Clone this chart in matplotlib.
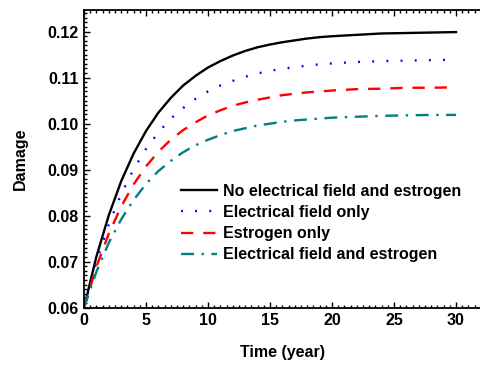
import matplotlib
matplotlib.use("Agg")
import matplotlib.pyplot as plt
from matplotlib.ticker import MultipleLocator

t = [0, 1, 2, 3, 4, 5, 6, 7, 8, 9, 10, 11, 12, 13, 14, 15, 16, 17, 18, 19, 20, 22, 24, 26, 28, 30]
no_field_no_estrogen = [0.0600, 0.0711, 0.0801, 0.0875, 0.0935, 0.0984, 0.1024, 0.1056, 0.1083, 0.1104,
                        0.1122, 0.1136, 0.1148, 0.1158, 0.1166, 0.1172, 0.1177, 0.1181, 0.1185, 0.1188,
                        0.1190, 0.1193, 0.1196, 0.1197, 0.1198, 0.1199]
field_only = [0.0600, 0.0700, 0.0781, 0.0847, 0.0901, 0.0945, 0.0981, 0.1011, 0.1034, 0.1054,
              0.1070, 0.1083, 0.1093, 0.1102, 0.1109, 0.1115, 0.1119, 0.1123, 0.1126, 0.1129,
              0.1131, 0.1134, 0.1136, 0.1137, 0.1138, 0.1139]
estrogen_only = [0.0600, 0.0689, 0.0761, 0.0820, 0.0868, 0.0907, 0.0939, 0.0965, 0.0986, 0.1003,
                 0.1018, 0.1029, 0.1039, 0.1046, 0.1052, 0.1057, 0.1062, 0.1065, 0.1068, 0.1070,
                 0.1072, 0.1075, 0.1076, 0.1078, 0.1078, 0.1079]
field_and_estrogen = [0.0600, 0.0678, 0.0741, 0.0792, 0.0834, 0.0869, 0.0897, 0.0919, 0.0938, 0.0953,
                      0.0965, 0.0975, 0.0984, 0.0990, 0.0996, 0.1000, 0.1004, 0.1007, 0.1009, 0.1011,
                      0.1013, 0.1015, 0.1017, 0.1018, 0.1019, 0.1019]
labels = ["No electrical field and estrogen", "Electrical field only",
          "Estrogen only", "Electrical field and estrogen"]

plt.rcParams['font.family'] = ['Liberation Sans', 'DejaVu Sans']
plt.rcParams['font.weight'] = 'bold'

fig = plt.figure(figsize=(4.8, 3.65), dpi=100)
ax = fig.add_axes([0.175, 0.157, 0.8267, 0.8156])

ax.plot(t, no_field_no_estrogen, color='black', lw=1.7, ls='-', label=labels[0])
ax.plot(t, field_only, color='#0000ff', lw=1.7, ls=(0, (0.8, 5.2)), label=labels[1])
ax.plot(t, estrogen_only, color='#ff0000', lw=1.7, ls=(0, (5.2, 4.2)), label=labels[2])
ax.plot(t, field_and_estrogen, color='#008080', lw=1.7, ls=(0, (5.5, 3.2, 1, 3.2)), label=labels[3])

ax.set_xlim(0, 32)
ax.set_ylim(0.06, 0.1247)
ax.xaxis.set_major_locator(MultipleLocator(5))
ax.xaxis.set_minor_locator(MultipleLocator(0.5))
ax.yaxis.set_major_locator(MultipleLocator(0.01))
ax.yaxis.set_minor_locator(MultipleLocator(0.001))
ax.yaxis.set_major_formatter(matplotlib.ticker.FormatStrFormatter('%.2f'))

ax.spines['right'].set_visible(False)
for s in ['left', 'top', 'bottom']:
    ax.spines[s].set_linewidth(1.3)
ax.tick_params(which='both', direction='in', top=True, right=False, width=1.0)
ax.tick_params(which='major', length=4.5, labelsize=11.5, pad=4)
ax.tick_params(which='minor', length=2.3)

ax.set_xlabel('Time (year)', fontsize=11.5, fontweight='bold', labelpad=12)
ax.set_ylabel('Damage', fontsize=11.5, fontweight='bold', labelpad=14)

leg = ax.legend(loc='upper left', bbox_to_anchor=(181 / 480, (365 - 184) / 365),
                bbox_transform=fig.transFigure, frameon=False, fontsize=11.5,
                handlelength=2.25, handletextpad=0.35, labelspacing=0.38, borderpad=0,
                borderaxespad=0)
for txt in leg.get_texts():
    txt.set_fontweight('bold')

fig.savefig('out.png', dpi=100)
